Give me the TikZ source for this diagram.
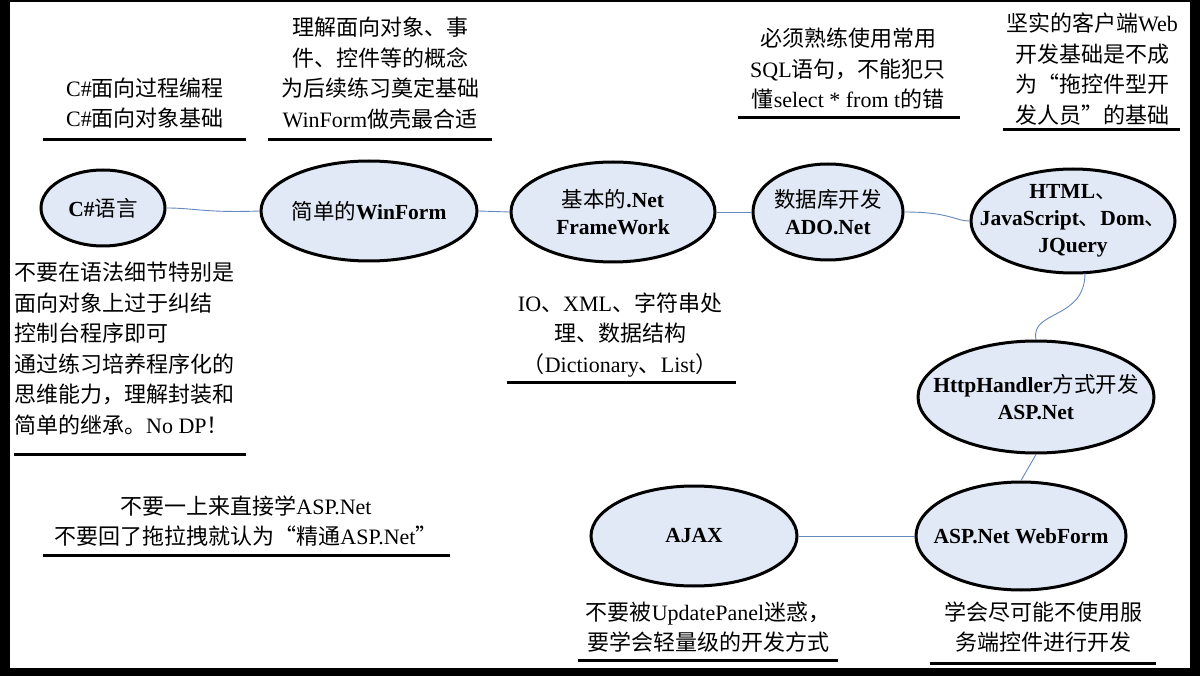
\documentclass[tikz,border=0pt]{standalone}
\usepackage{fontspec}
\setmainfont{Liberation Serif}
\newfontfamily\cjk{Noto Sans CJK SC}
\newcommand{\zh}[1]{{\cjk #1}}
\newcommand{\zr}[1]{{\cjk\mdseries #1}}
\definecolor{bubfill}{RGB}{225,233,246}
\definecolor{linkc}{RGB}{100,135,190}
\usetikzlibrary{shapes.geometric}
\begin{document}
\begin{tikzpicture}[x=1pt,y=-1pt,
  bub/.style={ellipse,draw=black,line width=3pt,fill=bubfill,minimum width=2*#1,inner sep=0pt,align=center,font=\fontsize{21.5}{27}\selectfont\bfseries},
  link/.style={draw=linkc,line width=0.9pt},
  txt/.style={align=center,font=\fontsize{22}{30.5}\selectfont,inner sep=0pt},
  ul/.style={line width=3pt}]
\fill[black] (0,0) rectangle (1200,676);
\fill[white] (10,2) rectangle (1190,668);
\node[bub=62pt,minimum height=76pt] (cs) at (103,208) {C\#\zr{语言}};
\node[bub=108pt,minimum height=100pt,inner xsep=-8pt] (wf) at (369,211) {\zr{简单的}WinForm};
\node[bub=102pt,minimum height=100pt] (fw) at (613,212) {\zr{基本的}.Net\\FrameWork};
\node[bub=75pt,minimum height=96pt,inner xsep=-6pt,inner ysep=-3pt] (ado) at (828,212) {\zr{数据库开发}\\ADO.Net};
\node[bub=102pt,minimum height=104pt,inner xsep=-28pt,inner ysep=-8pt] (html) at (1073,221) {HTML\zr{、}\\JavaScript\zr{、}Dom\zr{、}\\JQuery};
\node[bub=118pt,minimum height=112pt,inner xsep=-20pt] (hh) at (1036,397) {HttpHandler\zr{方式开发}\\ASP.Net};
\node[bub=105pt,minimum height=108pt,inner xsep=-20pt] (web) at (1021,536) {ASP.Net WebForm};
\node[bub=103pt,minimum height=100pt] (ajax) at (694,536) {AJAX};
\draw[link] (cs.east) .. controls (195,208) and (205,213) .. (wf.west);
\draw[link] (wf.east) -- (fw.west);
\draw[link] (fw.east) -- (ado.west);
\draw[link] (ado.east) .. controls (950,212) and (955,221) .. (html.west);
\draw[link] (1085,273) .. controls (1085,320) and (1030,310) .. (hh.north);
\draw[link] (hh.south) -- (web.north);
\draw[link] (web.west) -- (ajax.east);
\node[txt] (t1) at (145,103) {C\#\zh{面向过程编程}\\C\#\zh{面向对象基础}};
\draw[ul] (43,140) -- (246,140);
\node[txt] (t2) at (380,73) {\zh{理解面向对象、事}\\\zh{件、控件等的概念}\\\zh{为后续练习奠定基础}\\WinForm\zh{做壳最合适}};
\draw[ul] (268,140) -- (492,140);
\node[txt] (t3) at (848,69) {\zh{必须熟练使用常用}\\SQL\zh{语句，不能犯只}\\\zh{懂}select * from t\zh{的错}};
\draw[ul] (738,118) -- (960,118);
\node[txt] (t4) at (1092,69) {\zh{坚实的客户端}Web\\\zh{开发基础是不成}\\\zh{为“拖控件型开}\\\zh{发人员”的基础}};
\draw[ul] (1003,130) -- (1180,130);
\node[txt,align=left,anchor=north west] (t5) at (14,262) {\zh{不要在语法细节特别是}\\\zh{面向对象上过于纠结}\\\zh{控制台程序即可}\\\zh{通过练习培养程序化的}\\\zh{思维能力，理解封装和}\\\zh{简单的继承。}No DP\zh{！}};
\draw[ul] (14,454) -- (246,454);
\node[txt] (t6) at (620,335) {IO\zh{、}XML\zh{、字符串处}\\\zh{理、数据结构}\\\zh{（}Dictionary\zh{、}List\zh{）}};
\draw[ul] (507,383) -- (736,383);
\node[txt] (t7) at (246,521) {\zh{不要一上来直接学}ASP.Net\\\zh{不要回了拖拉拽就认为“精通}ASP.Net\zh{”}};
\draw[ul] (43,555) -- (450,555);
\node[txt] (t8) at (708,627) {\zh{不要被}UpdatePanel\zh{迷惑，}\\\zh{要学会轻量级的开发方式}};
\draw[ul] (578,660) -- (838,660);
\node[txt] (t9) at (1043,627) {\zh{学会尽可能不使用服}\\\zh{务端控件进行开发}};
\draw[ul] (930,663) -- (1156,663);
\end{tikzpicture}
\end{document}
